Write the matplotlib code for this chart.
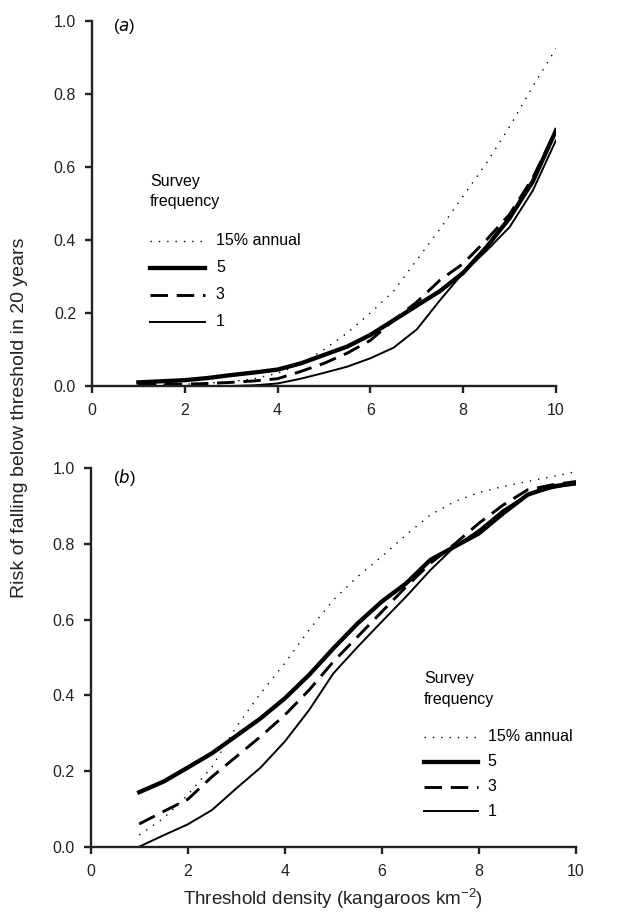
import numpy as np
import matplotlib
matplotlib.use("Agg")
import matplotlib.pyplot as plt

plt.rcParams['font.family'] = ['Liberation Sans', 'DejaVu Sans']

# threshold density (kangaroos km^-2)
x = [1, 1.5, 2, 2.5, 3, 3.5, 4, 4.5, 5, 5.5, 6, 6.5, 7, 7.5, 8, 8.5, 9, 9.5, 10]

# panel (a)
a_annual = [0.003, 0.004, 0.005, 0.008, 0.012, 0.02, 0.035, 0.06, 0.1, 0.145, 0.2, 0.26, 0.345, 0.43, 0.52, 0.61, 0.71, 0.82, 0.924]
a_s5 = [0.01, 0.013, 0.016, 0.022, 0.03, 0.037, 0.045, 0.062, 0.085, 0.108, 0.14, 0.18, 0.22, 0.26, 0.31, 0.38, 0.46, 0.56, 0.70]
a_s3 = [0.005, 0.005, 0.005, 0.007, 0.01, 0.014, 0.02, 0.04, 0.062, 0.09, 0.125, 0.18, 0.23, 0.29, 0.335, 0.40, 0.47, 0.57, 0.70]
a_s1 = [0.0, 0.0, 0.0, 0.0, 0.0, 0.002, 0.007, 0.02, 0.036, 0.053, 0.076, 0.105, 0.155, 0.235, 0.31, 0.37, 0.435, 0.535, 0.673]

# panel (b)
b_annual = [0.031, 0.075, 0.137, 0.211, 0.317, 0.405, 0.485, 0.573, 0.652, 0.714, 0.767, 0.824, 0.877, 0.912, 0.936, 0.952, 0.965, 0.978, 0.991]
b_s5 = [0.144, 0.172, 0.209, 0.247, 0.293, 0.339, 0.392, 0.454, 0.524, 0.59, 0.648, 0.696, 0.758, 0.793, 0.828, 0.881, 0.93, 0.952, 0.96]
b_s3 = [0.06, 0.093, 0.125, 0.185, 0.238, 0.291, 0.348, 0.414, 0.489, 0.555, 0.621, 0.687, 0.749, 0.80, 0.855, 0.903, 0.943, 0.956, 0.965]
b_s1 = [0.0, 0.03, 0.059, 0.097, 0.154, 0.209, 0.278, 0.361, 0.458, 0.528, 0.595, 0.661, 0.731, 0.793, 0.837, 0.89, 0.93, 0.947, 0.96]

labels = ["15% annual", "5", "3", "1"]
styles = [dict(color='black', lw=1.0, ls=(0, (1, 5))),
          dict(color='black', lw=3.1, ls='-'),
          dict(color='black', lw=2.1, ls=(0, (6, 3))),
          dict(color='black', lw=1.4, ls='-')]

fig = plt.figure(figsize=(6.37, 9.18), dpi=100)
ax_a = fig.add_axes([0.1444, 0.5795, 0.7285, 0.398])
ax_b = fig.add_axes([0.1424, 0.0777, 0.7619, 0.4122])


def setup(ax, series, tag, tag_y, leg_x, leg_y, leg_dy, title_y):
    for ys, st in zip(series, styles):
        ax.plot(x, ys, **st)
    ax.set_xlim(0, 10)
    ax.set_ylim(0, 1.0)
    ax.set_xticks([0, 2, 4, 6, 8, 10])
    ax.set_yticks([0, 0.2, 0.4, 0.6, 0.8, 1.0])
    ax.set_yticklabels([f"{v:.1f}" for v in ax.get_yticks()])
    for s in ['top', 'right']:
        ax.spines[s].set_visible(False)
    for s in ['left', 'bottom']:
        ax.spines[s].set_linewidth(1.7)
        ax.spines[s].set_color('#222222')
    ax.tick_params(direction='out', length=5, width=1.7, labelsize=11.5,
                   color='#222222', labelcolor='#222222')
    ax.tick_params(axis='y', pad=6.5)
    ax.tick_params(axis='x', pad=7.5)
    ax.text(0.045, tag_y, f"($\\it{{{tag}}}$)", transform=ax.transAxes,
            ha='left', va='center', fontsize=12)
    # legend drawn by hand
    ax.text(leg_x[0], title_y, "Survey\nfrequency", transform=ax.transAxes,
            ha='left', va='center', fontsize=11.5, linespacing=1.45)
    for i, (lab, st) in enumerate(zip(labels, styles)):
        yy = leg_y - i * leg_dy
        ax.plot([leg_x[0], leg_x[1]], [yy, yy], transform=ax.transAxes, **st)
        ax.text(leg_x[2], yy, lab, transform=ax.transAxes, ha='left', va='center', fontsize=11.5)


setup(ax_a, [a_annual, a_s5, a_s3, a_s1], 'a', 0.985, (0.125, 0.244, 0.267), 0.398, 0.074, 0.532)
setup(ax_b, [b_annual, b_s5, b_s3, b_s1], 'b', 0.975, (0.687, 0.797, 0.818), 0.291, 0.066, 0.417)

fig.text(0.031, 0.545, "Risk of falling below threshold in 20 years", rotation=90,
         ha='center', va='center', fontsize=14, color='#222222')
fig.text(0.523, 0.021, "Threshold density (kangaroos km$^{\\mathregular{-2}}$)",
         ha='center', va='center', fontsize=13.5, color='#222222')

fig.savefig("out.png", dpi=100)
plt.close()
